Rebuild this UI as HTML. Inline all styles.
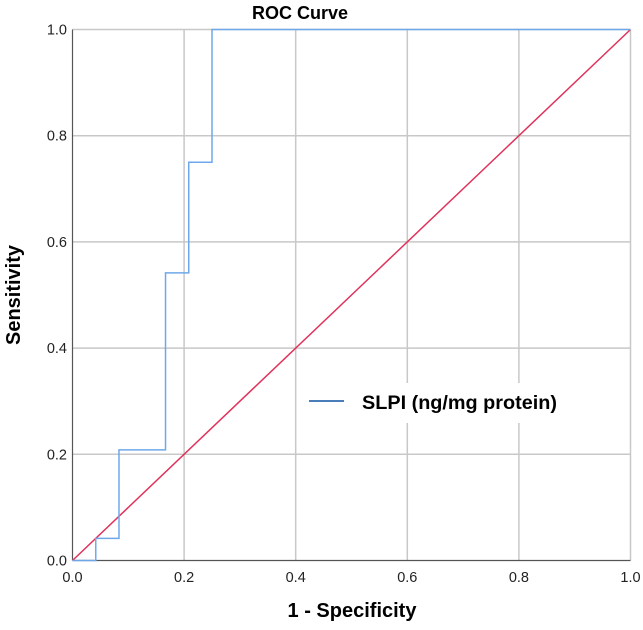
<!DOCTYPE html>
<html><head><meta charset="utf-8"><style>
body{margin:0;background:#fff;}
svg{display:block;font-family:"Liberation Sans",Arial,sans-serif;}
</style></head><body>
<svg id="chart" width="643" height="630" viewBox="0 0 643 630">
<g id="grid"></g>
<g id="ticks"></g>
<rect x="300" y="383" width="329" height="40" fill="#fff"/>
<line x1="72.5" y1="29.5" x2="72.5" y2="560.5" stroke="#555" stroke-width="1.2"/>
<line x1="72.5" y1="560.5" x2="630.5" y2="560.5" stroke="#555" stroke-width="1.2"/>
<g id="series"></g>
<text x="300" y="19" font-size="18" font-weight="bold" text-anchor="middle">ROC Curve</text>
<text x="352" y="617" font-size="20" font-weight="bold" text-anchor="middle">1 - Specificity</text>
<text transform="translate(20,295) rotate(-90)" font-size="20" font-weight="bold" text-anchor="middle">Sensitivity</text>
<g>
<line x1="309" y1="401" x2="344" y2="401" stroke="#4a7ebb" stroke-width="2"/>
<text x="362" y="409" font-size="19" font-weight="bold" textLength="195" lengthAdjust="spacingAndGlyphs">SLPI (ng/mg protein)</text>
</g>
</svg>
<script>
const tickValues=[0,0.2,0.4,0.6,0.8,1.0];
const tickLabels=["0.0","0.2","0.4","0.6","0.8","1.0"];
const rocFpr=[0,0.0417,0.0417,0.0833,0.0833,0.1667,0.1667,0.2083,0.2083,0.25,0.25,1.0];
const rocTpr=[0,0,0.0417,0.0417,0.2083,0.2083,0.5417,0.5417,0.75,0.75,1.0,1.0];
const refX=[0,1];
const refY=[0,1];
const NS="http://www.w3.org/2000/svg";
function xs(v){return 72.5+v*558;}
function ys(v){return 560.5-v*531;}
function mk(t,a,p){const e=document.createElementNS(NS,t);for(const k in a)e.setAttribute(k,a[k]);p.appendChild(e);return e;}
const grid=document.getElementById('grid'),ticks=document.getElementById('ticks'),series=document.getElementById('series');
tickValues.forEach((v,i)=>{
  if(v>0){
    const gv=mk('line',{x1:xs(v),y1:ys(0),x2:xs(v),y2:ys(1),stroke:'#c8c8c8','stroke-width':1.5},grid);
    
    
    const gh=mk('line',{x1:xs(0),y1:ys(v),x2:xs(1),y2:ys(v),stroke:'#c8c8c8','stroke-width':1.5},grid);
    
    
  }
  const tx=mk('text',{x:xs(v),y:582,'font-size':14.5,'text-anchor':'middle',fill:'#222'},ticks);
  tx.textContent=tickLabels[i];
  
  
  const ty=mk('text',{x:67,y:ys(v)+5,'font-size':14.5,'text-anchor':'end',fill:'#222'},ticks);
  ty.textContent=tickLabels[i];
  
  
});
const ref=mk('polyline',{points:refX.map((v,i)=>xs(v)+','+ys(refY[i])).join(' '),fill:'none',stroke:'#e0325a','stroke-width':1.5},series);


const roc=mk('polyline',{points:rocFpr.map((v,i)=>xs(v)+','+ys(rocTpr[i])).join(' '),fill:'none',stroke:'#6fa8ea','stroke-width':1.5},series);


</script>
</body></html>
